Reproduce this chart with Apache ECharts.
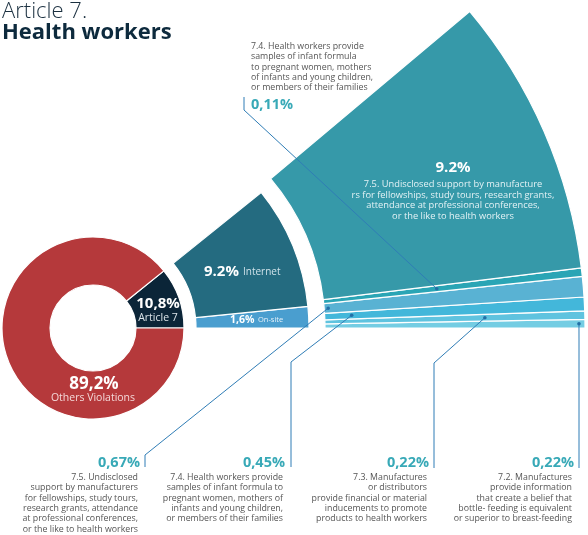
<!DOCTYPE html>
<html><head><meta charset="utf-8">
<script src="https://cdn.jsdelivr.net/npm/echarts@6/dist/echarts.min.js"></script>
<style>html,body{margin:0;padding:0;background:#fff}#c{width:588px;height:535px}</style>
</head><body><div id="c"></div>
<script>
// ---- data ----
const overallNames = ['Article 7', 'Others Violations'];
const overallValues = [10.8, 89.2];
const overallLabels = ['10,8%', '89,2%'];

const channelNames = ['On-site', 'Internet'];
const channelValues = [1.6, 9.2];
const channelLabels = ['1,6%', '9.2%'];

// detail slices, listed from the horizontal edge upward
const detailCodes = ['7.2', '7.3', '7.4', '7.5', '7.4', '7.5'];
const detailValues = [0.22, 0.22, 0.45, 0.67, 0.11, 9.2];
const detailLabels = ['0,22%', '0,22%', '0,45%', '0,67%', '0,11%', '9.2%'];
const detailTexts = [
  ['7.2. Manufactures', 'provide information', 'that create a belief that', 'bottle- feeding is equivalent', 'or superior to breast-feeding'],
  ['7.3. Manufactures', 'or distributors', 'provide financial or material', 'inducements to promote', 'products to health workers'],
  ['7.4. Health workers provide', 'samples of infant formula to', 'pregnant women, mothers of', 'infants and young children,', 'or members of their families'],
  ['7.5. Undisclosed', 'support by manufacturers', 'for fellowships, study tours,', 'research grants, attendance', 'at professional conferences,', 'or the like to health workers'],
  ['7.4. Health workers provide', 'samples of infant formula', 'to pregnant women, mothers', 'of infants and young children,', 'or members of their families'],
  ['7.5. Undisclosed support by manufacture', 'rs for fellowships, study tours, research grants,', 'attendance at professional conferences,', 'or the like to health workers']
];

// ---- styling ----
const FONT = '"Open Sans", "DejaVu Sans", sans-serif';
const CX = 93, CY = 328;
const overallColors = ['#0b2538', '#b5393b'];
const channelColors = ['#4a9ecf', '#246b80'];
const detailColors = ['#74cde3', '#5fc3df', '#43b7da', '#59b2d3', '#2aa5b5', '#3699a9'];
const LINE = '#2f7db6';
const TEAL = '#38a9b7';

const sum = a => a.reduce((s, v) => s + v, 0);
const spacer = v => ({ value: v, itemStyle: { color: 'transparent', borderWidth: 0 }, label: { show: false }, emphasis: { disabled: true } });

const chart = echarts.init(document.getElementById('c'), null, { renderer: 'canvas' });

const base = {
  type: 'pie', center: [CX, CY], startAngle: 0, clockwise: false,
  silent: true, label: { show: false }, labelLine: { show: false },
  itemStyle: { borderColor: '#fff', borderWidth: 1.2 }, animation: false
};

chart.setOption({
  animation: false,
  backgroundColor: '#fff',
  series: [
    Object.assign({}, base, {
      radius: [43, 91],
      data: overallValues.map((v, i) => ({ name: overallNames[i], value: v, itemStyle: { color: overallColors[i] } }))
    }),
    Object.assign({}, base, {
      radius: [103, 216],
      data: channelValues.map((v, i) => ({ name: channelNames[i], value: v, itemStyle: { color: channelColors[i] } }))
        .concat([spacer(100 - sum(channelValues))])
    }),
    Object.assign({}, base, {
      radius: [232, 492], minAngle: 1,
      data: detailValues.map((v, i) => ({ name: detailCodes[i], value: v, itemStyle: { color: detailColors[i] } }))
        .concat([spacer(100 - sum(detailValues))])
    })
  ]
});

// leader line geometry: dot radius along slice mid-angle, knee and label anchor
const leaders = [
  { idx: 0, r: 486, pts: [[579, 468], [579, 340]], lx: 574, align: 'right', ly: 463, ty: 472 },
  { idx: 1, r: 392, pts: [[434, 468], [434, 363]], lx: 429, align: 'right', ly: 463, ty: 472 },
  { idx: 2, r: 259, pts: [[291, 467], [291, 362]], lx: 285, align: 'right', ly: 463, ty: 472 },
  { idx: 3, r: 236, pts: [[145, 467], [145, 455]], lx: 140, align: 'right', ly: 463, ty: 472 },
  { idx: 4, r: 346, pts: [[244, 97], [244, 110]], lx: 251, align: 'left', ly: 105, ty: 41 }
];

function midPoint(seriesIndex, idx, r) {
  let lay = null;
  try { lay = chart.getModel().getSeriesByIndex(seriesIndex).getData().getItemLayout(idx); } catch (e) {}
  let a;
  if (lay && lay.startAngle != null) {
    a = (lay.startAngle + lay.endAngle) / 2;
  } else {
    const before = sum(detailValues.slice(0, idx));
    a = -((before + detailValues[idx] / 2) / 100) * Math.PI * 2;
  }
  return [CX + r * Math.cos(a), CY + r * Math.sin(a)];
}

const g = [];
const txt = (x, y, text, size, weight, color, align, vAlign, lh) => ({
  type: 'text', x: x, y: y, z: 20,
  style: { text: text, fill: color, fontFamily: FONT, fontSize: size, fontWeight: weight,
           textAlign: align || 'left', textVerticalAlign: vAlign || 'middle', lineHeight: lh || size * 1.2 }
});

// title
g.push(txt(2, 12, 'Article 7.', 22, 300, '#1b3040', 'left', 'middle'));
g.push(txt(2, 33, 'Health workers', 22, 'bold', '#0d2a3d', 'left', 'middle'));

// donut labels
g.push(txt(158, 304, overallLabels[0], 15, 'bold', '#fff', 'center'));
g.push(txt(158, 318, overallNames[0], 10.5, 'normal', '#dce4e9', 'center'));
g.push(txt(94, 384, overallLabels[1], 17, 'bold', '#fff', 'center'));
g.push(txt(93, 398, overallNames[1], 10.5, 'normal', '#f4d8d8', 'center'));

// channel labels
g.push(txt(204, 272, channelLabels[1], 15, 'bold', '#fff', 'left'));
g.push(txt(243, 272, channelNames[1], 10, 'normal', '#cfe2e9', 'left'));
g.push(txt(230, 320, channelLabels[0], 10.5, 'bold', '#fff', 'left'));
g.push(txt(258, 320, channelNames[0], 7.5, 'normal', '#e6f2fa', 'left'));

// big slice label
g.push(txt(453, 168, detailLabels[5], 15, 'bold', '#fff', 'center'));
g.push(txt(453, 179, detailTexts[5].join('\n'), 9.3, 'normal', '#e3f2f5', 'center', 'top', 10.6));

// leaders
leaders.forEach(L => {
  const d = midPoint(2, L.idx, L.r);
  g.push({ type: 'polyline', z: 15, shape: { points: L.pts.concat([d]) }, style: { stroke: LINE, lineWidth: 1, fill: null } });
  g.push({ type: 'circle', z: 16, shape: { cx: d[0], cy: d[1], r: 1.8 }, style: { fill: '#226fa6' } });
  g.push(txt(L.lx, L.ly, detailLabels[L.idx], 14.5, 'bold', TEAL, L.align));
  const tx = L.align === 'right' ? L.lx - 2 : L.lx;
  g.push(txt(tx, L.ty, detailTexts[L.idx].join('\n'), 8.8, 'normal', '#555', L.align, 'top', 10.4));
});

chart.setOption({ graphic: { elements: g } });
</script>
</body></html>
